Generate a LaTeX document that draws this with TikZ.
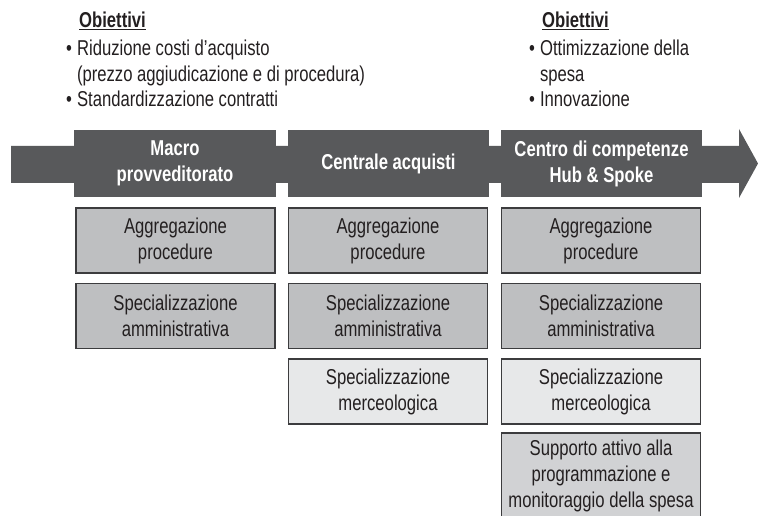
\documentclass[tikz,border=0pt]{standalone}
\usepackage{fontspec}
\setmainfont{Liberation Sans}[FakeStretch=0.775]
\usepackage{tikz}
\usetikzlibrary{positioning}
\tikzset{>=latex}
\definecolor{mydark}{RGB}{88, 89, 91}
\definecolor{mygray}{RGB}{190, 191, 193}
\definecolor{mylight}{RGB}{231, 232, 233}
\definecolor{mymid}{RGB}{209, 210, 212}
\definecolor{myline}{RGB}{60, 60, 62}
\definecolor{mytext}{RGB}{35, 31, 32}
\newcommand{\myfont}{\fontsize{21.5bp}{26bp}\selectfont}
\tikzset{
  head/.style = {fill = mydark, text = white, font = \myfont\bfseries, align = center,
    inner sep = 0, minimum width = 201bp, minimum height = 67bp},
  box/.style = {draw = myline, line width = 1.2bp, text = mytext, font = \myfont,
    align = center, inner sep = 0, minimum width = 199bp, minimum height = 65bp},
  goal/.style = {text = mytext, font = \myfont, inner sep = 0, anchor = base west}
}

\begin{document}
\begin{tikzpicture}[x = 1bp, y = -1bp]
\useasboundingbox (0, 0) rectangle (758, 516);

% freccia
\fill[mydark] (11, 146) -- (739, 146) -- (739, 129) -- (758, 163.5) -- (739, 198)
  -- (739, 183) -- (11, 183) -- cycle;

% fasi
\node[head] (macro) at (175, 163.5) {Macro\\provveditorato};
\node[head] (centrale) at (388.5, 163.5) {Centrale acquisti};
\node[head] (centro) at (601.5, 163.5) {Centro di competenze\\Hub \& Spoke};

% prima colonna
\node[box, fill = mygray] (a1) at (175.5, 240.5) {Aggregazione\\procedure};
\node[box, fill = mygray] (s1) at (175.5, 316) {Specializzazione\\amministrativa};

% seconda colonna
\node[box, fill = mygray] (a2) at (388, 240.5) {Aggregazione\\procedure};
\node[box, fill = mygray] (s2) at (388, 316) {Specializzazione\\amministrativa};
\node[box, fill = mylight] (m2) at (388, 391.5) {Specializzazione\\merceologica};

% terza colonna
\node[box, fill = mygray] (a3) at (601, 240.5) {Aggregazione\\procedure};
\node[box, fill = mygray] (s3) at (601, 316) {Specializzazione\\amministrativa};
\node[box, fill = mylight] (m3) at (601, 391.5) {Specializzazione\\merceologica};
\node[box, fill = mymid, minimum height = 86bp] (sup3) at (601, 476)
  {Supporto attivo alla\\programmazione e\\monitoraggio della spesa};

% obiettivi
\node[goal] (obj1) at (79, 28) {\underline{\textbf{Obiettivi}}};
\node[goal] (list1) at (66, 56) {\fontsize{21.5bp}{25.5bp}\selectfont
  \begin{tabular}[t]{@{}l@{\hspace{5bp}}l@{}}
  \textbullet & Riduzione costi d’acquisto\\
   & (prezzo aggiudicazione e di procedura)\\
  \textbullet & Standardizzazione contratti
  \end{tabular}};
\node[goal] (obj2) at (542, 28) {\underline{\textbf{Obiettivi}}};
\node[goal] (list2) at (529, 56) {\fontsize{21.5bp}{25.5bp}\selectfont
  \begin{tabular}[t]{@{}l@{\hspace{5bp}}l@{}}
  \textbullet & Ottimizzazione della\\
   & spesa\\
  \textbullet & Innovazione
  \end{tabular}};
\end{tikzpicture}
\end{document}
